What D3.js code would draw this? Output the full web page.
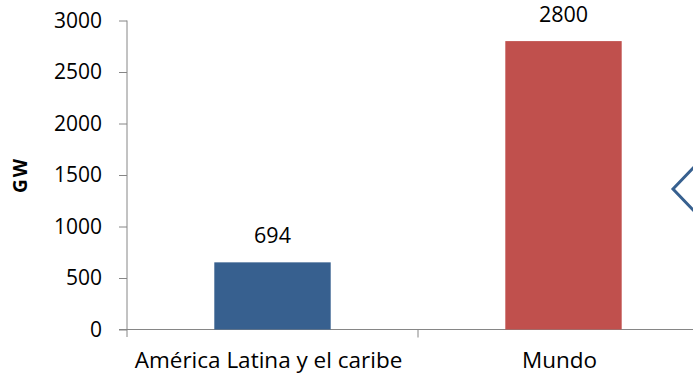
<!DOCTYPE html>
<meta charset="utf-8">
<style>
body { margin: 0; background: #fff; }
text { font-family: "Open Sans", sans-serif; fill: #000; }
.axis path, .axis line { stroke: #868686; }
</style>
<svg width="693" height="380"></svg>
<script src="https://d3js.org/d3.v7.min.js"></script>
<script>
var categories = ["América Latina y el caribe", "Mundo"];
var values = [652, 2800];
var labels = ["694", "2800"];
var colors = ["#37608f", "#c0504d"];
var yTicks = [0, 500, 1000, 1500, 2000, 2500, 3000];

var svg = d3.select("svg");

var x = d3.scaleBand()
    .domain(categories)
    .range([127, 709])
    .paddingInner(0.6)
    .paddingOuter(0.3);

var y = d3.scaleLinear()
    .domain([0, 3000])
    .range([329.5, 20.5]);

// y axis
var yAxis = svg.append("g")
    .attr("class", "axis")
    .attr("transform", "translate(127,0)")
    .call(d3.axisLeft(y).tickValues(yTicks).tickFormat(d3.format("d"))
      .tickSize(8).tickSizeOuter(0).tickPadding(17));
yAxis.select(".domain").attr("d", "M0,20.5V337");
yAxis.selectAll("text").style("font-size", "21px");

// x axis line with category separator
var xg = svg.append("g").attr("class", "axis");
xg.append("line")
    .attr("x1", 119).attr("x2", 693)
    .attr("y1", y(0)).attr("y2", y(0));
xg.selectAll(".sep")
  .data([x.range()[0] + x.step() * (1 + x.paddingOuter() - x.paddingInner() / 2) ])
  .enter().append("line")
    .attr("x1", function(d) { return d; }).attr("x2", function(d) { return d; })
    .attr("y1", y(0)).attr("y2", y(0) + 8);

svg.selectAll(".bar")
  .data(values)
  .enter().append("rect")
    .attr("x", function(d, i) { return x(categories[i]); })
    .attr("width", x.bandwidth())
    .attr("y", function(d) { return y(d); })
    .attr("height", function(d) { return y(0) - y(d); })
    .attr("fill", function(d, i) { return colors[i]; });

svg.selectAll(".lbl")
  .data(values)
  .enter().append("text")
    .attr("x", function(d, i) { return x(categories[i]) + x.bandwidth() / 2; })
    .attr("y", function(d) { return y(d) - 19; })
    .attr("text-anchor", "middle")
    .style("font-size", "21.5px")
    .text(function(d, i) { return labels[i]; });

svg.selectAll(".cat")
  .data(categories)
  .enter().append("text")
    .attr("x", function(d) { return x(d) + x.bandwidth() / 2 - 4; })
    .attr("y", 368)
    .attr("text-anchor", "middle")
    .style("font-size", "22.5px")
    .text(function(d) { return d; });

svg.append("text")
    .attr("transform", "translate(27,175) rotate(-90)")
    .attr("text-anchor", "middle")
    .style("font-size", "19px")
    .style("font-weight", "bold")
    .style("letter-spacing", "2px")
    .text("GW");

// partial chevron at right edge
svg.append("path")
    .attr("d", "M697,164L673,189L697,214")
    .attr("fill", "none")
    .attr("stroke", "#37608f")
    .attr("stroke-width", 3);
</script>
